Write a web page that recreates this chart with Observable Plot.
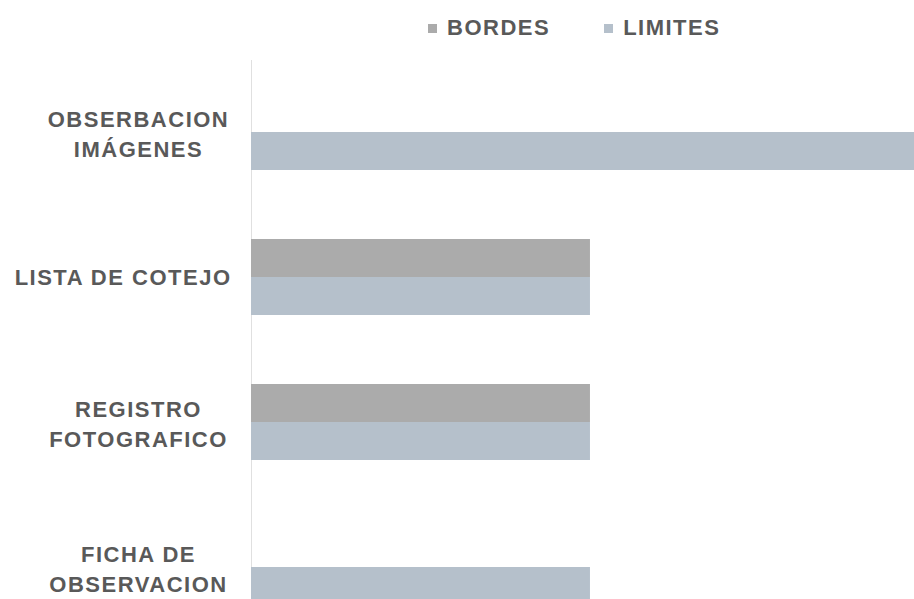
<!DOCTYPE html>
<html>
<head>
<meta charset="utf-8">
<script src="https://cdn.jsdelivr.net/npm/d3@7"></script>
<script src="https://cdn.jsdelivr.net/npm/@observablehq/plot@0.6"></script>
<style>
  html, body { margin: 0; padding: 0; background: #fff; }
  #wrap { width: 914px; height: 599px; overflow: hidden; position: relative; background: #fff; }
  #legend { height: 56px; display: flex; align-items: center; padding-left: 428px; box-sizing: border-box;
    font-family: "Liberation Sans", Arial, sans-serif; font-weight: bold; font-size: 22px; letter-spacing: 1.5px; color: #595959; }
  .item { display: flex; align-items: center; margin-right: 54px; }
  .sw { width: 9px; height: 9px; margin-right: 10px; }
  #wrap svg { display: block; overflow: hidden; }
  #chart svg text { letter-spacing: 1.5px; }
</style>
</head>
<body>
<div id="wrap">
  <div id="legend"></div>
  <div id="chart"></div>
</div>
<script>
const categories = ["OBSERBACION\nIMÁGENES", "LISTA DE COTEJO", "REGISTRO\nFOTOGRAFICO", "FICHA DE\nOBSERVACION"];
const series = ["BORDES", "LIMITES"];
const bordes = [0, 1, 1, 0];
const limites = [2, 1, 1, 1];
const colors = ["#ababab", "#b5c0cb"];

const rowsB = categories.map((c, i) => ({category: c, value: bordes[i]}));
const rowsL = categories.map((c, i) => ({category: c, value: limites[i]}));

// legend
const legend = document.getElementById("legend");
series.forEach((s, i) => {
  const it = document.createElement("div");
  it.className = "item";
  const sw = document.createElement("div");
  sw.className = "sw";
  sw.style.background = colors[i];
  const t = document.createElement("span");
  t.textContent = s;
  it.appendChild(sw); it.appendChild(t);
  legend.appendChild(it);
});

const half = 38;
const plot = Plot.plot({
  width: 914,
  height: 543,
  marginLeft: 251,
  marginRight: 0,
  marginTop: 4,
  marginBottom: 0,
  style: {background: "transparent"},
  x: {domain: [0, 1.956], axis: null},
  y: {domain: categories, range: [37, 550], paddingInner: 0.479, paddingOuter: 0, axis: null},
  marks: [
    Plot.ruleX([0], {stroke: "#e0e0e0", strokeWidth: 1}),
    Plot.barX(rowsB.filter(d => d.value > 0), {x: "value", y: "category", fill: colors[0], insetBottom: half, insetTop: 0, clip: true}),
    Plot.barX(rowsL.filter(d => d.value > 0), {x: "value", y: "category", fill: colors[1], insetTop: half, insetBottom: 0, clip: true}),
    Plot.text(categories.filter(c => c.includes("\n")), {
      y: d => d, text: d => d, frameAnchor: "left", dx: -113, textAnchor: "middle",
      lineAnchor: "middle", lineHeight: 1.36, fontSize: 22, fontWeight: "bold",
      fontFamily: "Liberation Sans, Arial, sans-serif", fill: "#595959"
    }),
    Plot.text(categories.filter(c => !c.includes("\n")), {
      y: d => d, text: d => d, frameAnchor: "left", dx: -20, textAnchor: "end",
      lineAnchor: "middle", fontSize: 22, fontWeight: "bold",
      fontFamily: "Liberation Sans, Arial, sans-serif", fill: "#595959"
    })
  ]
});
document.getElementById("chart").appendChild(plot);
</script>
</body>
</html>
